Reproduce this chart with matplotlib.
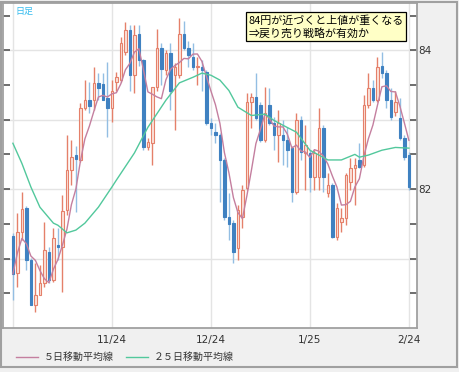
import numpy as np
import pandas as pd
import matplotlib
matplotlib.use('Agg')
import matplotlib.pyplot as plt
from matplotlib.lines import Line2D
from matplotlib.patches import Rectangle

# daily candles
opens = [81.32, 80.79, 81.38, 81.73, 80.98, 80.33, 80.47, 80.65, 81.09, 80.69,
         81.19, 81.17, 81.70, 82.27, 82.49, 82.42, 83.17, 83.29, 83.28, 83.53,
         83.51, 83.31, 83.17, 83.54, 83.57, 83.97, 84.29, 83.64, 84.24, 83.86,
         82.60, 82.66, 83.47, 84.03, 83.71, 83.96, 83.64, 83.64, 84.24, 84.03,
         83.90, 83.76, 83.76, 83.68, 82.95, 82.82, 82.78, 82.42, 81.60, 81.51,
         81.15, 81.60, 82.01, 83.25, 83.32, 83.21, 82.71, 83.21, 82.95, 82.78,
         82.78, 82.71, 82.59, 81.96, 82.99, 82.52, 82.52, 82.17, 82.17, 82.88,
         81.94, 82.06, 81.31, 81.53, 81.58, 82.10, 82.30, 82.42, 82.35, 83.21,
         83.45, 83.28, 83.77, 83.67, 83.28, 83.11, 83.02, 82.73, 82.49]
highs = [81.37, 81.65, 81.96, 81.76, 81.01, 80.94, 80.91, 81.53, 81.17, 81.44,
         81.44, 81.91, 82.78, 82.71, 82.62, 83.24, 83.57, 83.54, 83.76, 83.67,
         83.67, 83.83, 83.57, 83.68, 84.19, 84.40, 84.36, 84.36, 84.36, 83.88,
         82.73, 83.47, 84.30, 84.10, 84.00, 84.10, 83.81, 84.47, 84.42, 84.14,
         84.10, 83.90, 83.86, 83.71, 83.02, 82.95, 82.81, 82.45, 81.94, 81.55,
         81.77, 82.06, 83.38, 83.38, 83.67, 83.25, 83.47, 83.45, 83.04, 83.14,
         82.99, 82.89, 82.62, 83.09, 83.06, 82.92, 82.56, 82.56, 83.17, 82.92,
         82.23, 82.09, 81.80, 81.73, 82.23, 82.45, 82.45, 82.66, 83.35, 83.67,
         83.57, 83.90, 83.97, 83.71, 83.45, 83.42, 83.31, 82.78, 82.53]
lows = [80.40, 80.59, 81.27, 80.83, 80.33, 80.23, 80.47, 80.59, 80.65, 80.66,
        80.98, 80.52, 81.63, 82.06, 81.67, 82.39, 83.14, 83.09, 83.14, 83.28,
        83.28, 82.75, 82.96, 83.42, 83.54, 83.93, 83.42, 83.38, 83.78, 82.56,
        82.56, 82.35, 83.42, 83.50, 83.64, 83.14, 82.85, 83.60, 84.00, 83.76,
        83.71, 83.50, 83.42, 82.92, 82.78, 82.66, 81.81, 81.55, 81.27, 80.94,
        80.98, 81.44, 81.99, 82.88, 82.99, 82.68, 82.68, 82.92, 82.56, 82.39,
        82.35, 82.32, 81.81, 81.93, 82.42, 81.99, 81.96, 81.99, 81.99, 81.96,
        81.88, 81.30, 81.27, 81.38, 81.48, 81.99, 81.77, 82.30, 82.32, 83.17,
        83.25, 83.25, 83.60, 83.17, 82.99, 83.06, 82.71, 82.42, 81.99]
closes = [80.78, 81.38, 81.71, 80.98, 80.33, 80.47, 80.65, 81.12, 80.69, 81.30,
          81.17, 81.68, 82.27, 82.46, 82.43, 83.17, 83.29, 83.19, 83.53, 83.45,
          83.29, 83.17, 83.42, 83.61, 84.10, 84.29, 83.64, 84.22, 83.86, 82.60,
          82.68, 83.47, 84.03, 83.73, 83.96, 83.42, 83.76, 84.24, 84.03, 83.93,
          83.76, 83.77, 83.71, 82.95, 82.88, 82.78, 82.42, 81.60, 81.50, 81.09,
          81.70, 81.99, 83.25, 83.32, 83.02, 82.71, 83.09, 82.95, 82.78, 82.95,
          82.71, 82.56, 81.96, 82.99, 82.53, 82.63, 82.17, 82.52, 82.88, 82.17,
          82.06, 81.31, 81.73, 81.58, 82.20, 82.30, 82.35, 82.32, 83.21, 83.45,
          83.28, 83.76, 83.67, 83.28, 83.04, 83.25, 82.73, 82.46, 82.03]

# 25 day moving average, read at a few days
ma25_day = [0, 2, 4, 6, 9, 10, 12, 14, 16, 19, 22, 23, 27, 30, 34, 37, 40, 42,
            44, 46, 48, 50, 53, 56, 58, 60, 63, 66, 68, 70, 73, 76, 77, 79, 82, 85, 88]
ma25_val = [82.66, 82.37, 82.03, 81.74, 81.51, 81.48, 81.37, 81.41, 81.51, 81.74,
            82.03, 82.13, 82.52, 82.89, 83.28, 83.53, 83.61, 83.67, 83.64, 83.57,
            83.42, 83.18, 83.06, 83.08, 82.99, 82.92, 82.82, 82.56, 82.49, 82.42,
            82.42, 82.50, 82.46, 82.49, 82.56, 82.60, 82.59]

date_ticks = [0, 22, 44, 66, 88]
date_labels = ['', '11/24', '12/24', '1/25', '2/24']

jp = ['Noto Sans CJK JP', 'DejaVu Sans']

up_edge = '#e5806a'
up_fill = '#fbe2da'
dn_body = '#3f81c1'
dn_wick = '#93bee3'

o = np.array(opens); h = np.array(highs); l = np.array(lows); c = np.array(closes)
x = np.arange(len(o))
up = c >= o
ma5 = pd.Series(c).rolling(5, min_periods=1).mean()

fig = plt.figure(figsize=(4.6, 3.72), dpi=100)
fig.patch.set_facecolor('#f0f0f0')
ax = fig.add_axes([3/460, 1 - 328/372, 414/460, 325/372])
ax.set_facecolor('white')

ax.vlines(x[up], l[up], h[up], colors=up_edge, lw=1, zorder=2)
ax.vlines(x[~up], l[~up], h[~up], colors=dn_wick, lw=1, zorder=2)
body = np.maximum(np.abs(c - o), 0.02)
ax.bar(x[up], body[up], bottom=o[up], width=0.62, color=up_fill,
       edgecolor=up_edge, lw=0.8, zorder=3)
ax.bar(x[~up], body[~up], bottom=c[~up], width=0.62, color=dn_body,
       edgecolor=dn_body, lw=0.8, zorder=3)

ax.plot(x, ma5, color='#c47f9f', lw=1, zorder=4)
ax.plot(ma25_day, ma25_val, color='#52c89c', lw=1, zorder=4)

ax.set_xlim(-2.2, 89.8)
ax.set_ylim(80.0, 84.68)
ax.set_xticks(date_ticks)
ax.set_xticklabels(date_labels, fontsize=7.5, color='#333333')
ax.set_yticks([81, 82, 83, 84])
ax.set_yticklabels(['', '82', '', '84'], fontsize=7.5, color='#333333')
ax.set_yticks([80.5, 81.5, 82.5, 83.5, 84.5], minor=True)
ax.grid(True, which='major', color='#e4e4e4', lw=1)
ax.set_axisbelow(True)
ax.tick_params(axis='x', length=0, pad=5)
ax.tick_params(axis='y', which='both', left=True, right=True, labelleft=False,
               labelright=True, direction='in', length=5, width=1.2,
               color='#555555', pad=1)
for s in ['left', 'right', 'bottom', 'top']:
    ax.spines[s].set_color('#a0a0a0')
    ax.spines[s].set_linewidth(1.3)

ax.text(0.03, 0.988, '日足', transform=ax.transAxes, ha='left', va='top',
        fontsize=6.5, color='#33bbee', family=jp)
ax.text(0.593, 0.963, '84円が近づくと上値が重くなる\n⇒戻り売り戦略が有効か',
        transform=ax.transAxes, ha='left', va='top', fontsize=7.9, family=jp,
        color='black', linespacing=1.2, zorder=6,
        bbox=dict(boxstyle='square,pad=0.25', fc='#ffffc6', ec='black', lw=0.9))

handles = [Line2D([], [], color='#c47f9f', lw=1), Line2D([], [], color='#52c89c', lw=1)]
fig.legend(handles, ['５日移動平均線', '２５日移動平均線'], loc='center left',
           bbox_to_anchor=(0.015, 1 - 357/372), ncol=2, frameon=False,
           prop={'family': jp, 'size': 7.2}, handlelength=2.2, handletextpad=0.6,
           columnspacing=1.2, labelcolor='#333333')

fig.add_artist(Rectangle((1.5/460, 5/372), 456/460, 365/372, transform=fig.transFigure,
                         fill=False, ec='#a0a0a0', lw=1.5))

fig.savefig('out.png', dpi=100, facecolor=fig.get_facecolor())
